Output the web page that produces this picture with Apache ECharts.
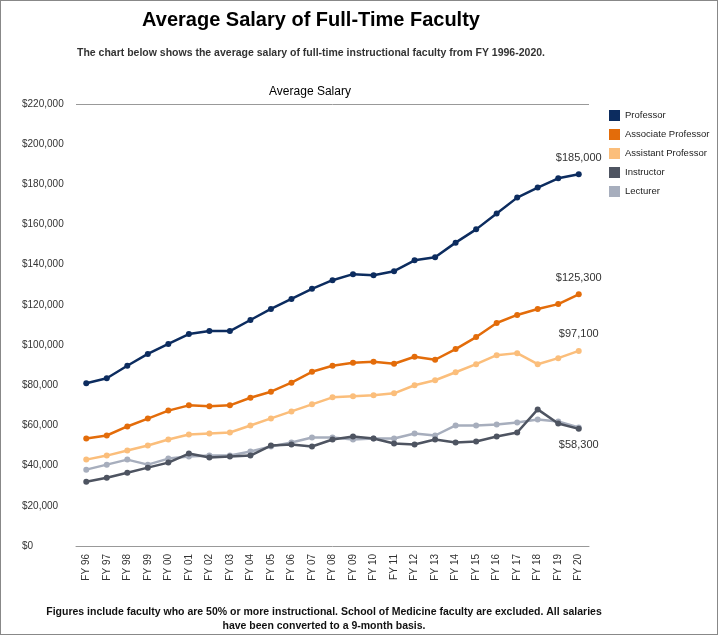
<!DOCTYPE html>
<html>
<head>
<meta charset="utf-8">
<script src="https://cdn.jsdelivr.net/npm/echarts@6/dist/echarts.min.js"></script>
<style>
  html, body { margin: 0; padding: 0; background: #fff; }
  #chart { width: 716px; height: 633px; border: 1px solid #888; }
</style>
</head>
<body>
<div id="chart"></div>
<script>
const years = ['FY 96','FY 97','FY 98','FY 99','FY 00','FY 01','FY 02','FY 03','FY 04','FY 05','FY 06','FY 07','FY 08',
  'FY 09','FY 10','FY 11','FY 12','FY 13','FY 14','FY 15','FY 16','FY 17','FY 18','FY 19','FY 20'];
const professor = [81000,83500,89700,95600,100600,105500,107000,107000,112500,118000,123000,128000,132300,
  135300,134800,136800,142200,143700,151000,157600,165500,173400,178400,183000,185000];
const associate = [53500,55000,59500,63400,67400,70000,69600,70000,73800,76800,81300,86700,89700,
  91200,91700,90700,94200,92700,98000,104000,111000,115000,118000,120400,125300];
const assistant = [43000,45000,47500,50000,53000,55500,56000,56500,60000,63500,67000,70500,74000,
  74500,75000,76000,80000,82500,86500,90500,95000,96000,90500,93500,97100];
const instructor = [32000,34000,36500,39000,41500,46000,44000,44500,45000,50000,50500,49500,53000,
  54500,53500,51000,50500,53000,51500,52000,54500,56500,68000,61000,58300];
const lecturer = [38000,40500,43000,40500,43500,44500,45000,45000,47000,49500,51500,54000,54000,
  53000,53500,53500,56000,55000,60000,60000,60500,61500,63000,62000,59000];

const fmt = v => '$' + v.toLocaleString('en-US');
const mk = (name, data, color, labelPos) => ({
  name, type: 'line', data, symbol: 'circle', symbolSize: 6,
  lineStyle: { width: 2.5, color }, itemStyle: { color },
  label: {
    show: !!labelPos, position: labelPos || 'top', distance: 8,
    color: '#333', fontSize: 11,
    formatter: p => p.dataIndex === data.length - 1 ? fmt(p.value) : ''
  }
});

const chart = echarts.init(document.getElementById('chart'));
chart.setOption({
  animation: false,
  textStyle: { fontFamily: 'Liberation Sans, Arial, sans-serif' },
  title: [
    { text: 'Average Salary of Full-Time Faculty', left: 305, top: 4, textAlign: 'center',
      textStyle: { fontSize: 20, fontWeight: 'bold', color: '#000', fontFamily: 'Liberation Sans Narrow, Liberation Sans, sans-serif' } },
    { text: 'The chart below shows the average salary of full-time instructional faculty from FY 1996-2020.',
      left: 305, top: 42, textAlign: 'center', textStyle: { fontSize: 10.5, fontWeight: 'bold', color: '#333' } },
    { text: 'Average Salary', left: 304, top: 80, textAlign: 'center',
      textStyle: { fontSize: 12, fontWeight: 'normal', color: '#000' } },
    { text: 'Figures include faculty who are 50% or more instructional. School of Medicine faculty are excluded. All salaries\nhave been converted to a 9-month basis.',
      left: 318, top: 599, textAlign: 'center',
      textStyle: { fontSize: 10.5, fontWeight: 'bold', color: '#111', lineHeight: 14, align: 'center' } }
  ],
  legend: {
    orient: 'vertical', left: 603, top: 104, itemWidth: 11, itemHeight: 11, itemGap: 8,
    icon: 'rect', textStyle: { fontSize: 9.5, color: '#222' },
    data: ['Professor','Associate Professor','Assistant Professor','Instructor','Lecturer']
  },
  grid: { left: 75, right: 128, top: 103, bottom: 88 },
  xAxis: {
    type: 'category', data: years, boundaryGap: ['1.3%','1.3%'],
    axisLine: { lineStyle: { color: '#999' } }, axisTick: { show: false },
    axisLabel: { rotate: 90, fontSize: 10, color: '#333', interval: 0 }
  },
  yAxis: {
    type: 'value', min: 0, max: 220000, interval: 20000,
    axisLine: { show: false }, axisTick: { show: false },
    splitLine: { show: false },
    axisLabel: { formatter: fmt, fontSize: 10, color: '#333', align: 'left', margin: 54 }
  },
  series: [
    Object.assign(mk('Lecturer', lecturer, '#a7aebd', null), { z: 2 }),
    Object.assign(mk('Instructor', instructor, '#4e5461', 'bottom'), { z: 3 }),
    mk('Assistant Professor', assistant, '#fbbe7b', 'top'),
    mk('Associate Professor', associate, '#e36c0a', 'top'),
    Object.assign(mk('Professor', professor, '#0c2c5f', 'top'), {
      markLine: { silent: true, symbol: 'none', label: { show: false },
        lineStyle: { color: '#999', width: 1, type: 'solid' }, data: [{ yAxis: 220000 }] }
    })
  ]
});
</script>
</body>
</html>
